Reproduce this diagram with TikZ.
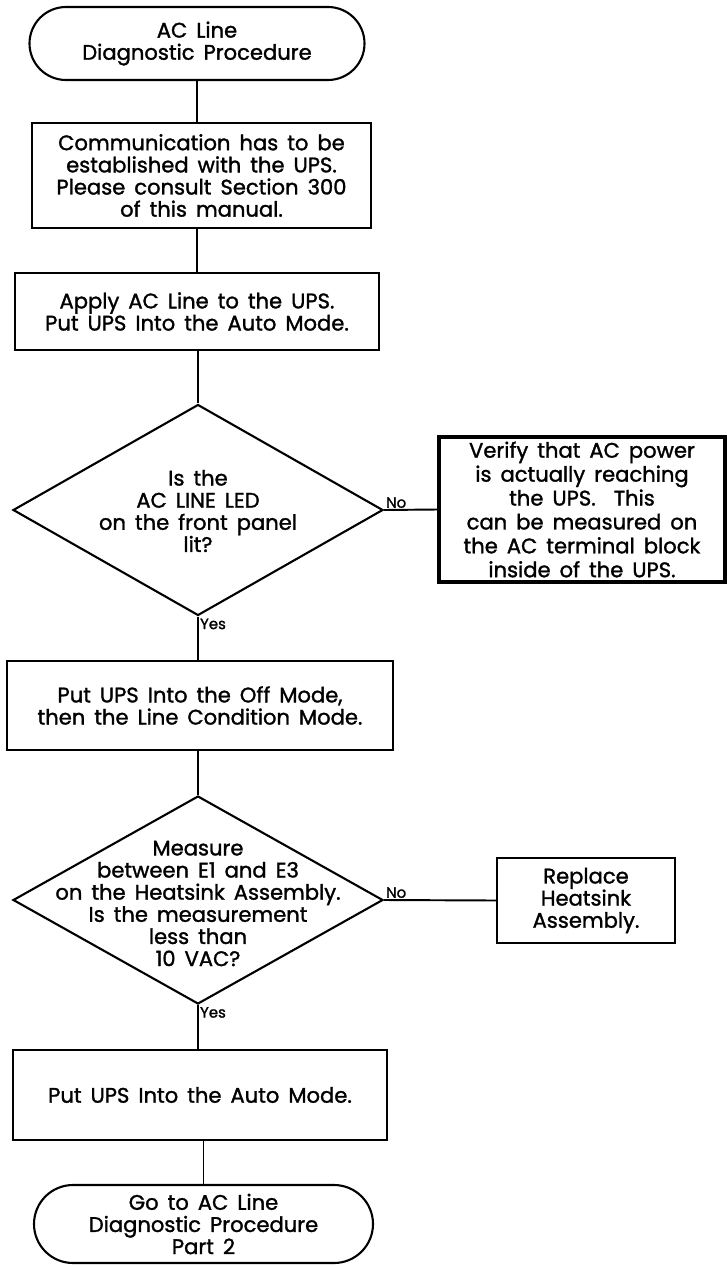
\documentclass[tikz,border=0pt]{standalone}
\usepackage{fontspec}
\setmainfont{Poppins}[FakeBold=1.4,WordSpace=1.6]
\usetikzlibrary{shapes.geometric,shapes.misc}

\begin{document}
\begin{tikzpicture}[
    every node/.style={font=\fontsize{12}{12.6}\selectfont},
    flow/.style={line width=1.1pt},
    terminal/.style={draw,line width=1.2pt,rounded rectangle,align=center,inner sep=0pt},
    procbox/.style={draw,line width=1.3pt,align=center,inner sep=0pt},
    decision/.style={draw,line width=1.2pt,diamond,inner sep=0pt},
    answer/.style={font=\fontsize{8.5}{9}\selectfont,inner sep=1pt}
  ]
  \useasboundingbox (0,0) rectangle (14.52,-25.32);

  \node[terminal,minimum width=6.7cm,minimum height=1.46cm] (start) at (3.94,-0.87)
    {AC Line\\Diagnostic Procedure};
  \node[procbox,minimum width=6.78cm,minimum height=2.1cm] (comm) at (4.03,-3.51)
    {Communication has to be\\established with the UPS.\\Please consult Section 300\\of this manual.};
  \node[procbox,minimum width=7.28cm,minimum height=1.54cm] (apply) at (3.94,-6.23)
    {Apply AC Line to the UPS.\\Put UPS Into the Auto Mode.};

  \node[decision,minimum width=7.4cm,minimum height=4.22cm] (ledq) at (3.96,-10.2) {};
  \node[align=center] (ledtxt) at (3.96,-10.22)
    {Is the\\AC LINE LED\\on the front panel\\lit?};
  \node[procbox,line width=2pt,minimum width=5.72cm,minimum height=2.9cm,
        font=\fontsize{12}{13.6}\selectfont] (verify) at (11.64,-10.19)
    {Verify that AC power\\is actually reaching\\the UPS.\ \ This\\can be measured on\\the AC terminal block\\inside of the UPS.};

  \node[procbox,minimum width=7.72cm,minimum height=1.78cm] (offmode) at (4.0,-14.11)
    {Put UPS Into the Off Mode,\\then the Line Condition Mode.};

  \node[decision,minimum width=7.4cm,minimum height=4.16cm] (measq) at (3.96,-18.0) {};
  \node[align=center] (meastxt) at (3.96,-18.07)
    {Measure\\between E1 and E3\\on the Heatsink Assembly.\\Is the measurement\\less than\\10 VAC?};
  \node[procbox,minimum width=3.56cm,minimum height=1.7cm] (replace) at (11.72,-18.01)
    {Replace\\Heatsink\\Assembly.};

  \node[procbox,minimum width=7.48cm,minimum height=1.8cm] (automode) at (4.0,-21.9)
    {Put UPS Into the Auto Mode.};
  \node[terminal,minimum width=6.78cm,minimum height=1.56cm] (part2) at (4.07,-24.48)
    {Go to AC Line\\Diagnostic Procedure\\Part 2};

  \draw[flow] (start.south) -- (start.south |- comm.north);
  \draw[flow] (apply.north) -- (apply.north |- comm.south);
  \draw[flow] (ledq.north) -- (ledq.north |- apply.south);
  \draw[flow] (ledq.south) -- (ledq.south |- offmode.north);
  \draw[flow] (measq.north) -- (measq.north |- offmode.south);
  \draw[flow] (measq.south) -- (measq.south |- automode.north);
  \draw[flow] (part2.north) -- (part2.north |- automode.south);
  \draw[flow] (ledq.east) -- (verify.west);
  \draw[flow] (measq.east) -- (replace.west);

  \node[answer,anchor=south west] (no1) at (ledq.east) {No};
  \node[answer,anchor=north west] (yes1) at (ledq.south) {Yes};
  \node[answer,anchor=south west] (no2) at (measq.east) {No};
  \node[answer,anchor=north west] (yes2) at (measq.south) {Yes};
\end{tikzpicture}
\end{document}
